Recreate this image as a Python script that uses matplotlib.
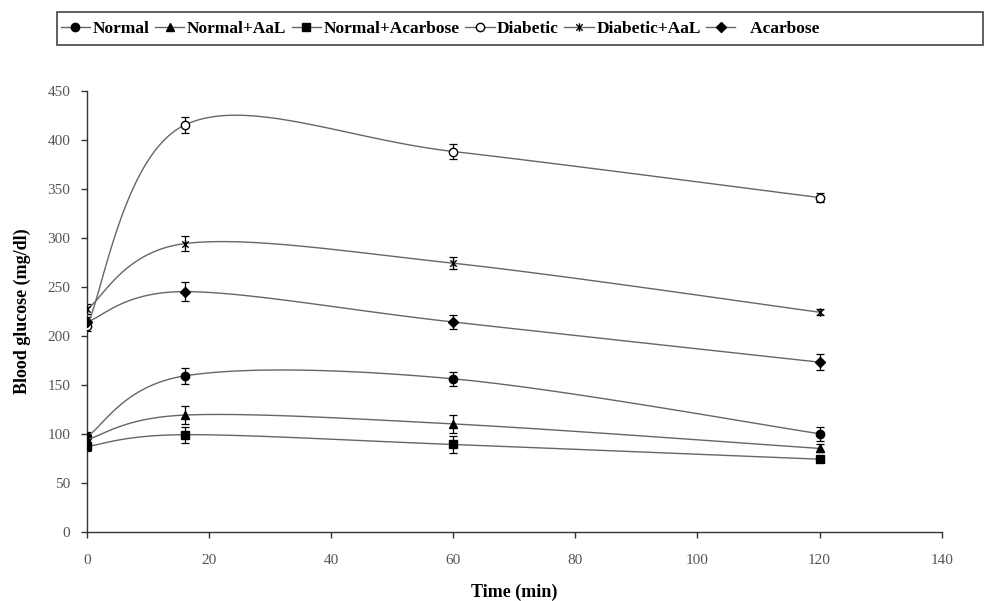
import numpy as np
import matplotlib

matplotlib.use("Agg")
import matplotlib.pyplot as plt
from matplotlib.patches import Rectangle
from matplotlib.path import Path

# time points (min)
time_min = [0, 16, 60, 120]

series_names = [
    "Normal",
    "Normal+AaL",
    "Normal+Acarbose",
    "Diabetic",
    "Diabetic+AaL",
    "Acarbose",
]

normal = [97, 159, 156, 100]
normal_aal = [94, 119, 110, 85]
normal_acarbose = [87, 99, 89, 74]
diabetic = [210, 415, 388, 341]
diabetic_aal = [227, 294, 274, 224]
acarbose = [214, 245, 214, 173]

normal_err = [5, 8, 7, 7]
normal_aal_err = [5, 9, 9, 4]
normal_acarbose_err = [5, 8, 9, 3]
diabetic_err = [5, 8, 8, 5]
diabetic_aal_err = [5, 8, 6, 3]
acarbose_err = [5, 10, 7, 8]

values = [normal, normal_aal, normal_acarbose, diabetic, diabetic_aal, acarbose]
errors = [normal_err, normal_aal_err, normal_acarbose_err,
          diabetic_err, diabetic_aal_err, acarbose_err]

x_ticks = [0, 20, 40, 60, 80, 100, 120, 140]
y_ticks = [0, 50, 100, 150, 200, 250, 300, 350, 400, 450]

# asterisk marker like the spreadsheet one: an x with a vertical bar
_star_verts = [(-1, -1), (1, 1), (-1, 1), (1, -1), (0, -1.3), (0, 1.3)]
_star_codes = [Path.MOVETO, Path.LINETO] * 3
star_marker = Path(_star_verts, _star_codes)

styles = [
    dict(marker="o", markersize=7, markerfacecolor="black"),
    dict(marker="^", markersize=7, markerfacecolor="black"),
    dict(marker="s", markersize=7, markerfacecolor="black"),
    dict(marker="o", markersize=7, markerfacecolor="white"),
    dict(marker=star_marker, markersize=7, markerfacecolor="none"),
    dict(marker="D", markersize=5, markerfacecolor="black"),
]


def smooth_curve(xs, ys, steps=40):
    """Spreadsheet-style smoothed line: cubic Bezier between points."""
    pts = np.column_stack([xs, ys]).astype(float)
    n = len(pts)
    out = [pts[0]]
    for i in range(n - 1):
        p_prev = pts[i - 1] if i > 0 else pts[i]
        p_next2 = pts[i + 2] if i + 2 < n else pts[i + 1]
        p0, p3 = pts[i], pts[i + 1]
        p1 = p0 + (p3 - p_prev) / 6.0
        p2 = p3 - (p_next2 - p0) / 6.0
        t = np.linspace(0, 1, steps + 1)[1:, None]
        seg = ((1 - t) ** 3) * p0 + 3 * ((1 - t) ** 2) * t * p1 \
            + 3 * (1 - t) * t ** 2 * p2 + t ** 3 * p3
        out.extend(seg)
    out = np.array(out)
    return out[:, 0], out[:, 1], steps


fig = plt.figure(figsize=(9.86, 6.01), dpi=100)
ax = fig.add_axes([0.0882, 0.1153, 0.8668, 0.7337])

serif = ["Liberation Serif", "DejaVu Serif"]
line_color = "#666666"

for name, ys, errs, style in zip(series_names, values, errors, styles):
    sx, sy, steps = smooth_curve(time_min, ys)
    ax.plot(sx, sy, color=line_color, linewidth=1.0,
            markevery=steps, markeredgecolor="black",
            markeredgewidth=1.0, label=name, zorder=3, **style)
    ax.errorbar(time_min, ys, yerr=errs, fmt="none", ecolor="black",
                elinewidth=0.9, capsize=3, capthick=0.9, zorder=2)

ax.set_xlim(0, 140)
ax.set_ylim(0, 450)
ax.set_xticks(x_ticks)
ax.set_yticks(y_ticks)
ax.spines["top"].set_visible(False)
ax.spines["right"].set_visible(False)
for side in ("left", "bottom"):
    ax.spines[side].set_color("#333333")
    ax.spines[side].set_linewidth(1.0)
ax.tick_params(direction="out", length=4, width=1.0, color="#333333",
               labelsize=11, labelcolor="#555555")
ax.tick_params(axis="y", pad=8)
ax.tick_params(axis="x", pad=12)
for lbl in ax.get_xticklabels() + ax.get_yticklabels():
    lbl.set_fontfamily(serif)

ax.set_xlabel("Time (min)", fontfamily=serif, fontweight="bold",
              fontsize=13, labelpad=12)
ax.set_ylabel("Blood glucose (mg/dl)", fontfamily=serif, fontweight="bold",
              fontsize=13, labelpad=12)

# legend box spans nearly the full width, entries packed at the left
fig.patches.append(Rectangle((0.058, 0.925), 0.939, 0.055,
                             transform=fig.transFigure, fill=False,
                             edgecolor="#444444", linewidth=1.2))
handles, labels = ax.get_legend_handles_labels()
for h in handles:
    h.set_markersize(min(h.get_markersize(), 6))
leg = fig.legend(handles, labels, loc="center left",
                 bbox_to_anchor=(0.058, 0.9525),
                 ncol=6, frameon=False,
                 prop={"family": serif, "weight": "bold", "size": 12.5},
                 handlelength=1.7, handletextpad=0.15, columnspacing=0.3,
                 borderpad=0.2, borderaxespad=0)
# the last entry sits a little apart from its marker in the original
leg.get_texts()[-1].set_text("   Acarbose")

fig.savefig("out.png", dpi=100, facecolor="white")
